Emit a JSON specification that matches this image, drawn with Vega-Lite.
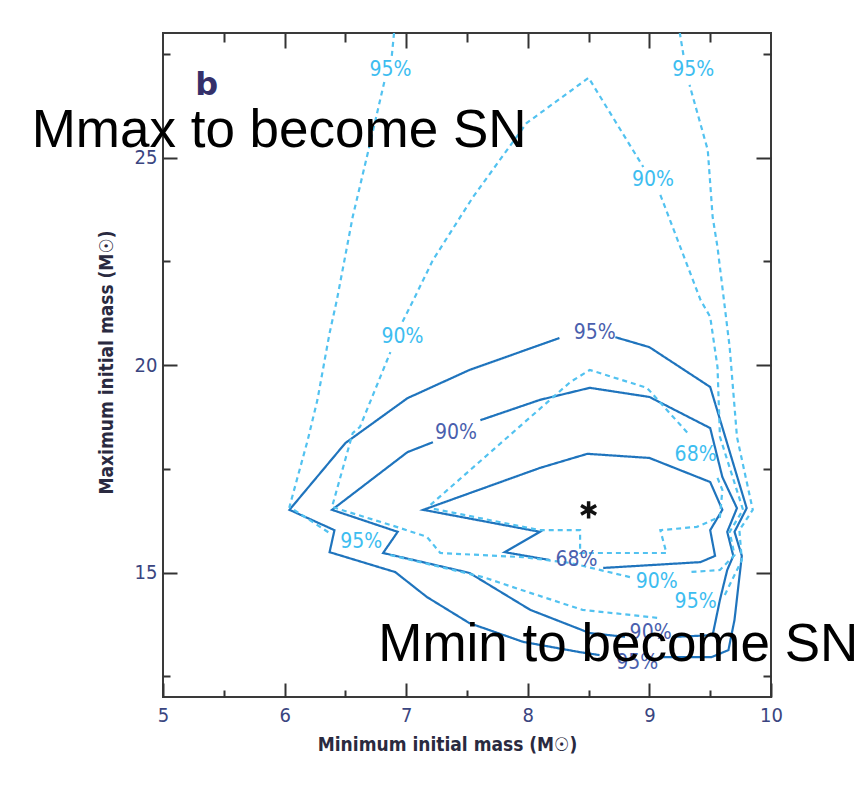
{
  "$schema": "https://vega.github.io/schema/vega-lite/v6.json",
  "width": 608,
  "height": 664,
  "autosize": {"type": "none"},
  "padding": {"left": 163, "top": 33, "right": 94, "bottom": 95},
  "background": "white",
  "config": {
    "view": {"stroke": "#3a3a3a", "strokeWidth": 2},
    "axis": {"grid": false, "domain": false, "tickColor": "#333333", "tickWidth": 2, "labelFlush": false, "labelOverlap": false}
  },
  "datasets": {
    "contours": [
      {"set": "A", "seg": "S95a", "i": 1, "x": 8.26, "y": 20.65},
      {"set": "A", "seg": "S95a", "i": 2, "x": 7.52, "y": 19.88},
      {"set": "A", "seg": "S95a", "i": 3, "x": 7.01, "y": 19.20},
      {"set": "A", "seg": "S95a", "i": 4, "x": 6.50, "y": 18.12},
      {"set": "A", "seg": "S95a", "i": 5, "x": 6.04, "y": 16.51},
      {"set": "A", "seg": "S95a", "i": 6, "x": 6.41, "y": 16.02},
      {"set": "A", "seg": "S95a", "i": 7, "x": 6.37, "y": 15.49},
      {"set": "A", "seg": "S95a", "i": 8, "x": 6.91, "y": 15.01},
      {"set": "A", "seg": "S95a", "i": 9, "x": 7.17, "y": 14.41},
      {"set": "A", "seg": "S95a", "i": 10, "x": 7.52, "y": 13.78},
      {"set": "A", "seg": "S95a", "i": 11, "x": 7.96, "y": 13.33},
      {"set": "A", "seg": "S95a", "i": 12, "x": 8.43, "y": 13.08},
      {"set": "A", "seg": "S95a", "i": 13, "x": 8.59, "y": 13.01},
      {"set": "A", "seg": "S95b", "i": 1, "x": 9.09, "y": 12.96},
      {"set": "A", "seg": "S95b", "i": 2, "x": 9.51, "y": 12.96},
      {"set": "A", "seg": "S95b", "i": 3, "x": 9.65, "y": 13.13},
      {"set": "A", "seg": "S95b", "i": 4, "x": 9.70, "y": 13.86},
      {"set": "A", "seg": "S95b", "i": 5, "x": 9.76, "y": 15.40},
      {"set": "A", "seg": "S95b", "i": 6, "x": 9.70, "y": 15.98},
      {"set": "A", "seg": "S95b", "i": 7, "x": 9.80, "y": 16.55},
      {"set": "A", "seg": "S95b", "i": 8, "x": 9.50, "y": 19.47},
      {"set": "A", "seg": "S95b", "i": 9, "x": 9.00, "y": 20.43},
      {"set": "A", "seg": "S95b", "i": 10, "x": 8.72, "y": 20.67},
      {"set": "A", "seg": "S90a", "i": 1, "x": 7.22, "y": 18.14},
      {"set": "A", "seg": "S90a", "i": 2, "x": 7.01, "y": 17.90},
      {"set": "A", "seg": "S90a", "i": 3, "x": 6.39, "y": 16.51},
      {"set": "A", "seg": "S90a", "i": 4, "x": 6.93, "y": 15.98},
      {"set": "A", "seg": "S90a", "i": 5, "x": 6.81, "y": 15.47},
      {"set": "A", "seg": "S90a", "i": 6, "x": 7.52, "y": 14.99},
      {"set": "A", "seg": "S90a", "i": 7, "x": 8.02, "y": 14.10},
      {"set": "A", "seg": "S90a", "i": 8, "x": 8.51, "y": 13.54},
      {"set": "A", "seg": "S90a", "i": 9, "x": 8.80, "y": 13.45},
      {"set": "A", "seg": "S90b", "i": 1, "x": 9.21, "y": 13.45},
      {"set": "A", "seg": "S90b", "i": 2, "x": 9.52, "y": 13.49},
      {"set": "A", "seg": "S90b", "i": 3, "x": 9.58, "y": 14.34},
      {"set": "A", "seg": "S90b", "i": 4, "x": 9.64, "y": 15.06},
      {"set": "A", "seg": "S90b", "i": 5, "x": 9.69, "y": 15.40},
      {"set": "A", "seg": "S90b", "i": 6, "x": 9.64, "y": 15.98},
      {"set": "A", "seg": "S90b", "i": 7, "x": 9.72, "y": 16.55},
      {"set": "A", "seg": "S90b", "i": 8, "x": 9.60, "y": 17.30},
      {"set": "A", "seg": "S90b", "i": 9, "x": 9.50, "y": 18.48},
      {"set": "A", "seg": "S90b", "i": 10, "x": 9.00, "y": 19.23},
      {"set": "A", "seg": "S90b", "i": 11, "x": 8.51, "y": 19.45},
      {"set": "A", "seg": "S90b", "i": 12, "x": 8.10, "y": 19.16},
      {"set": "A", "seg": "S90b", "i": 13, "x": 7.61, "y": 18.67},
      {"set": "A", "seg": "S68", "i": 1, "x": 8.18, "y": 15.30},
      {"set": "A", "seg": "S68", "i": 2, "x": 7.81, "y": 15.49},
      {"set": "A", "seg": "S68", "i": 3, "x": 8.10, "y": 15.98},
      {"set": "A", "seg": "S68", "i": 4, "x": 7.14, "y": 16.51},
      {"set": "A", "seg": "S68", "i": 5, "x": 8.10, "y": 17.52},
      {"set": "A", "seg": "S68", "i": 6, "x": 8.49, "y": 17.86},
      {"set": "A", "seg": "S68", "i": 7, "x": 9.00, "y": 17.76},
      {"set": "A", "seg": "S68", "i": 8, "x": 9.50, "y": 17.18},
      {"set": "A", "seg": "S68", "i": 9, "x": 9.60, "y": 16.51},
      {"set": "A", "seg": "S68", "i": 10, "x": 9.50, "y": 16.02},
      {"set": "A", "seg": "S68", "i": 11, "x": 9.54, "y": 15.40},
      {"set": "A", "seg": "S68", "i": 12, "x": 9.42, "y": 15.25},
      {"set": "A", "seg": "S68", "i": 13, "x": 8.62, "y": 15.11},
      {"set": "B", "seg": "D68a", "i": 1, "x": 7.20, "y": 16.63},
      {"set": "B", "seg": "D68a", "i": 2, "x": 8.35, "y": 19.59},
      {"set": "B", "seg": "D68a", "i": 3, "x": 8.51, "y": 19.88},
      {"set": "B", "seg": "D68a", "i": 4, "x": 8.98, "y": 19.45},
      {"set": "B", "seg": "D68a", "i": 5, "x": 9.33, "y": 18.31},
      {"set": "B", "seg": "D68b", "i": 1, "x": 9.56, "y": 17.28},
      {"set": "B", "seg": "D68b", "i": 2, "x": 9.60, "y": 16.99},
      {"set": "B", "seg": "D68b", "i": 3, "x": 9.58, "y": 16.34},
      {"set": "B", "seg": "D68b", "i": 4, "x": 9.39, "y": 16.10},
      {"set": "B", "seg": "D68b", "i": 5, "x": 9.09, "y": 16.02},
      {"set": "B", "seg": "D68b", "i": 6, "x": 9.14, "y": 15.47},
      {"set": "B", "seg": "D68b", "i": 7, "x": 8.43, "y": 15.47},
      {"set": "B", "seg": "D68b", "i": 8, "x": 8.43, "y": 16.02},
      {"set": "B", "seg": "D68b", "i": 9, "x": 8.10, "y": 16.02},
      {"set": "B", "seg": "D68b", "i": 10, "x": 7.20, "y": 16.55},
      {"set": "B", "seg": "D90a", "i": 1, "x": 6.97, "y": 21.04},
      {"set": "B", "seg": "D90a", "i": 2, "x": 7.06, "y": 21.57},
      {"set": "B", "seg": "D90a", "i": 3, "x": 7.22, "y": 22.53},
      {"set": "B", "seg": "D90a", "i": 4, "x": 7.55, "y": 24.05},
      {"set": "B", "seg": "D90a", "i": 5, "x": 7.99, "y": 25.83},
      {"set": "B", "seg": "D90a", "i": 6, "x": 8.50, "y": 26.92},
      {"set": "B", "seg": "D90a", "i": 7, "x": 8.95, "y": 24.77},
      {"set": "B", "seg": "D90b", "i": 1, "x": 9.09, "y": 24.10},
      {"set": "B", "seg": "D90b", "i": 2, "x": 9.42, "y": 21.57},
      {"set": "B", "seg": "D90b", "i": 3, "x": 9.50, "y": 21.16},
      {"set": "B", "seg": "D90b", "i": 4, "x": 9.56, "y": 19.95},
      {"set": "B", "seg": "D90b", "i": 5, "x": 9.58, "y": 18.27},
      {"set": "B", "seg": "D90b", "i": 6, "x": 9.77, "y": 16.51},
      {"set": "B", "seg": "D90b", "i": 7, "x": 9.66, "y": 15.98},
      {"set": "B", "seg": "D90b", "i": 8, "x": 9.70, "y": 15.42},
      {"set": "B", "seg": "D90b", "i": 9, "x": 9.58, "y": 15.06},
      {"set": "B", "seg": "D90b", "i": 10, "x": 9.33, "y": 15.01},
      {"set": "B", "seg": "D90c", "i": 1, "x": 8.84, "y": 14.89},
      {"set": "B", "seg": "D90c", "i": 2, "x": 8.35, "y": 15.23},
      {"set": "B", "seg": "D90c", "i": 3, "x": 7.96, "y": 15.37},
      {"set": "B", "seg": "D90c", "i": 4, "x": 7.28, "y": 15.47},
      {"set": "B", "seg": "D90c", "i": 5, "x": 7.17, "y": 15.86},
      {"set": "B", "seg": "D90c", "i": 6, "x": 6.92, "y": 16.10},
      {"set": "B", "seg": "D90c", "i": 7, "x": 6.39, "y": 16.58},
      {"set": "B", "seg": "D90c", "i": 8, "x": 6.56, "y": 18.36},
      {"set": "B", "seg": "D90c", "i": 9, "x": 6.62, "y": 18.51},
      {"set": "B", "seg": "D90c", "i": 10, "x": 6.87, "y": 20.31},
      {"set": "B", "seg": "D95a", "i": 1, "x": 6.90, "y": 28.0},
      {"set": "B", "seg": "D95a", "i": 2, "x": 6.88, "y": 27.40},
      {"set": "B", "seg": "D95b", "i": 1, "x": 6.82, "y": 26.82},
      {"set": "B", "seg": "D95b", "i": 2, "x": 6.69, "y": 25.18},
      {"set": "B", "seg": "D95b", "i": 3, "x": 6.56, "y": 23.57},
      {"set": "B", "seg": "D95b", "i": 4, "x": 6.43, "y": 21.57},
      {"set": "B", "seg": "D95b", "i": 5, "x": 6.37, "y": 20.77},
      {"set": "B", "seg": "D95b", "i": 6, "x": 6.27, "y": 19.16},
      {"set": "B", "seg": "D95b", "i": 7, "x": 6.19, "y": 18.19},
      {"set": "B", "seg": "D95b", "i": 8, "x": 6.04, "y": 16.58},
      {"set": "B", "seg": "D95b", "i": 9, "x": 6.37, "y": 15.95},
      {"set": "B", "seg": "D95c", "i": 1, "x": 6.87, "y": 15.42},
      {"set": "B", "seg": "D95c", "i": 2, "x": 7.63, "y": 14.89},
      {"set": "B", "seg": "D95c", "i": 3, "x": 8.02, "y": 14.51},
      {"set": "B", "seg": "D95c", "i": 4, "x": 8.45, "y": 14.10},
      {"set": "B", "seg": "D95c", "i": 5, "x": 9.09, "y": 13.90},
      {"set": "B", "seg": "D95d", "i": 1, "x": 9.62, "y": 14.46},
      {"set": "B", "seg": "D95d", "i": 2, "x": 9.76, "y": 15.30},
      {"set": "B", "seg": "D95d", "i": 3, "x": 9.74, "y": 16.02},
      {"set": "B", "seg": "D95d", "i": 4, "x": 9.85, "y": 16.51},
      {"set": "B", "seg": "D95d", "i": 5, "x": 9.72, "y": 18.27},
      {"set": "B", "seg": "D95d", "i": 6, "x": 9.66, "y": 20.43},
      {"set": "B", "seg": "D95d", "i": 7, "x": 9.56, "y": 22.84},
      {"set": "B", "seg": "D95d", "i": 8, "x": 9.52, "y": 23.57},
      {"set": "B", "seg": "D95d", "i": 9, "x": 9.48, "y": 25.18},
      {"set": "B", "seg": "D95d", "i": 10, "x": 9.33, "y": 26.75},
      {"set": "B", "seg": "D95e", "i": 1, "x": 9.28, "y": 27.47},
      {"set": "B", "seg": "D95e", "i": 2, "x": 9.25, "y": 28.0}
    ],
    "labels": [
      {"set": "A", "label": "95%", "x": 8.55, "y": 20.77},
      {"set": "A", "label": "90%", "x": 7.41, "y": 18.36},
      {"set": "A", "label": "68%", "x": 8.40, "y": 15.30},
      {"set": "A", "label": "90%", "x": 9.01, "y": 13.54},
      {"set": "A", "label": "95%", "x": 8.90, "y": 12.82},
      {"set": "B", "label": "95%", "x": 6.87, "y": 27.11},
      {"set": "B", "label": "95%", "x": 9.36, "y": 27.11},
      {"set": "B", "label": "90%", "x": 6.97, "y": 20.67},
      {"set": "B", "label": "90%", "x": 9.03, "y": 24.46},
      {"set": "B", "label": "68%", "x": 9.38, "y": 17.83},
      {"set": "B", "label": "95%", "x": 6.63, "y": 15.73},
      {"set": "B", "label": "90%", "x": 9.06, "y": 14.77},
      {"set": "B", "label": "95%", "x": 9.38, "y": 14.29}
    ],
    "best": [{"x": 8.50, "y": 16.51}],
    "panel": [{"text": "b", "x": 5.36, "y": 26.51}],
    "notes": [
      {"text": "Mmax to become SN", "x": 3.92, "y": 25.25},
      {"text": "Mmin to become SN", "x": 6.77, "y": 12.87}
    ]
  },
  "resolve": {"axis": {"x": "independent", "y": "independent"}},
  "layer": [
    {
      "data": {"name": "contours"},
      "mark": {"type": "line", "strokeWidth": 2.2, "clip": true},
      "encoding": {
        "x": {"field": "x", "type": "quantitative", "scale": {"domain": [5, 10], "nice": false, "zero": false},
          "axis": {"orient": "bottom", "values": [5, 6, 7, 8, 9, 10], "tickSize": -14, "labelPadding": 22,
            "labelFont": "DejaVu Sans Condensed", "labelFontSize": 20, "labelColor": "#3a4580",
            "title": "Minimum initial mass (M☉)", "titleFont": "DejaVu Sans Condensed", "titleFontWeight": "bold", "titleFontSize": 19, "titleColor": "#2a2a40",
            "titleX": 284, "titleY": 53, "titleAlign": "center", "titleBaseline": "alphabetic"}},
        "y": {"field": "y", "type": "quantitative", "scale": {"domain": [12, 28], "nice": false, "zero": false},
          "axis": {"orient": "left", "values": [15, 20, 25], "tickSize": -14, "labelPadding": 20,
            "labelFont": "DejaVu Sans Condensed", "labelFontSize": 20, "labelColor": "#3a4580",
            "title": "Maximum initial mass (M☉)", "titleFont": "DejaVu Sans Condensed", "titleFontWeight": "bold", "titleFontSize": 19, "titleColor": "#2a2a40",
            "titleAngle": 270, "titleX": -51, "titleY": 329, "titleAlign": "center", "titleBaseline": "alphabetic"}},
        "detail": {"field": "seg"},
        "order": {"field": "i", "type": "quantitative"},
        "color": {"field": "set", "type": "nominal", "scale": {"domain": ["A", "B"], "range": ["#1f74bd", "#52c2f0"]}, "legend": null},
        "strokeDash": {"field": "set", "type": "nominal", "scale": {"domain": ["A", "B"], "range": [[1, 0], [5, 4]]}, "legend": null}
      }
    },
    {
      "data": {"name": "labels"},
      "transform": [{"filter": "datum.set === 'A'"}],
      "mark": {"type": "text", "font": "DejaVu Sans Condensed", "fontSize": 21, "color": "#4a5fae", "align": "center", "baseline": "middle"},
      "encoding": {
        "x": {"field": "x", "type": "quantitative", "axis": {"orient": "bottom", "values": [5.5, 6.5, 7.5, 8.5, 9.5], "tickSize": -7, "labels": false, "title": null}},
        "y": {"field": "y", "type": "quantitative", "axis": {"orient": "left", "values": [12.5, 17.5, 22.5, 27.5], "tickSize": -7, "labels": false, "title": null}},
        "text": {"field": "label"}
      }
    },
    {
      "data": {"name": "labels"},
      "transform": [{"filter": "datum.set === 'B'"}],
      "mark": {"type": "text", "font": "DejaVu Sans Condensed", "fontSize": 21, "color": "#3dbdf0", "align": "center", "baseline": "middle"},
      "encoding": {
        "x": {"field": "x", "type": "quantitative", "axis": {"orient": "top", "values": [6, 7, 8, 9], "tickSize": -15, "labels": false, "title": null}},
        "y": {"field": "y", "type": "quantitative", "axis": {"orient": "right", "values": [15, 20, 25], "tickSize": -15, "labels": false, "title": null}},
        "text": {"field": "label"}
      }
    },
    {
      "data": {"name": "best"},
      "mark": {"type": "point", "shape": "M0,-1L0,1M-0.87,-0.5L0.87,0.5M-0.87,0.5L0.87,-0.5", "size": 300, "strokeWidth": 3.5, "color": "#111111", "opacity": 1},
      "encoding": {
        "x": {"field": "x", "type": "quantitative", "axis": {"orient": "top", "values": [5.5, 6.5, 7.5, 8.5, 9.5], "tickSize": -9, "labels": false, "title": null}},
        "y": {"field": "y", "type": "quantitative", "axis": {"orient": "right", "values": [12.5, 17.5, 22.5, 27.5], "tickSize": -8, "labels": false, "title": null}}
      }
    },
    {
      "data": {"name": "panel"},
      "mark": {"type": "text", "font": "DejaVu Sans", "fontWeight": "bold", "fontSize": 32, "color": "#34306a", "align": "center", "baseline": "alphabetic"},
      "encoding": {
        "x": {"field": "x", "type": "quantitative", "axis": null},
        "y": {"field": "y", "type": "quantitative", "axis": null},
        "text": {"field": "text"}
      }
    },
    {
      "data": {"name": "notes"},
      "mark": {"type": "text", "font": "Liberation Sans", "fontSize": 53, "color": "#000000", "align": "left", "baseline": "alphabetic"},
      "encoding": {
        "x": {"field": "x", "type": "quantitative", "axis": null},
        "y": {"field": "y", "type": "quantitative", "axis": null},
        "text": {"field": "text"}
      }
    }
  ]
}
